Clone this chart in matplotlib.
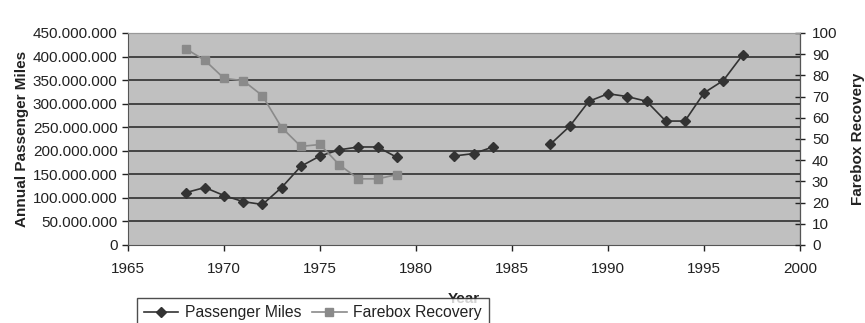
import numpy as np
import matplotlib.pyplot as plt

plt.rcParams['font.family'] = ['Liberation Sans', 'DejaVu Sans']

years = [1968, 1969, 1970, 1971, 1972, 1973, 1974, 1975, 1976, 1977, 1978, 1979,
         1980, 1981, 1982, 1983, 1984, 1985, 1986, 1987, 1988, 1989, 1990, 1991,
         1992, 1993, 1994, 1995, 1996, 1997]

# annual passenger miles (gaps where no data)
passenger_miles = [111e6, 122e6, 105e6, 92e6, 86e6, 122e6, 167e6, 189e6, 202e6, 208e6, 208e6, 186e6,
                   np.nan, np.nan, 189e6, 194e6, 208e6, np.nan, np.nan, 214e6, 252e6, 305e6, 321e6, 315e6,
                   305e6, 263e6, 263e6, 323e6, 349e6, 403e6]

fare_years = [1968, 1969, 1970, 1971, 1972, 1973, 1974, 1975, 1976, 1977, 1978, 1979]
farebox = [92.6, 87.1, 78.6, 77.5, 70.4, 55.4, 46.5, 47.4, 37.8, 31.2, 31.2, 33.2]

left_ticks = np.arange(0, 450e6 + 1, 50e6)
left_labels = ['0', '50.000.000', '100.000.000', '150.000.000', '200.000.000',
               '250.000.000', '300.000.000', '350.000.000', '400.000.000', '450.000.000']

txt = '#222222'

fig = plt.figure(figsize=(8.65, 3.23), dpi=100)
ax = fig.add_axes([0.148, 0.2415, 0.777, 0.6565])
ax.set_facecolor('#c0c0c0')

for v in left_ticks[1:-1]:
    ax.axhline(v, color='#3a3a3a', lw=1.3, zorder=1)

l1, = ax.plot(years, passenger_miles, color='#333333', lw=1.2, marker='D', ms=5,
              mfc='#333333', mec='#333333', zorder=3, label='Passenger Miles')
ax.set_xlim(1965, 2000)
ax.set_ylim(0, 450e6)
ax.set_yticks(left_ticks)
ax.set_yticklabels(left_labels)
ax.set_xticks(range(1965, 2001, 5))
ax.tick_params(axis='both', labelsize=11, colors=txt, length=4, width=1, direction='out')
ax.tick_params(axis='x', pad=8)
ax.set_ylabel('Annual Passenger Miles', fontsize=11, fontweight='bold', color=txt, labelpad=3)
ax.set_xlabel('Year', fontsize=11, fontweight='bold', color=txt, labelpad=12)
for s in ['left', 'bottom']:
    ax.spines[s].set_color('#555555')
ax.spines['top'].set_color('#999999')

ax2 = ax.twinx()
l2, = ax2.plot(fare_years, farebox, color='#8a8a8a', lw=1.2, marker='s', ms=5.5,
               mfc='#8a8a8a', mec='#8a8a8a', zorder=3, label='Farebox Recovery')
ax2.set_ylim(0, 100)
ax2.set_yticks(range(0, 101, 10))
ax2.tick_params(axis='y', labelsize=11, colors=txt, length=7, width=1, direction='inout', pad=5)
ax2.set_ylabel('Farebox Recovery', fontsize=11, fontweight='bold', color=txt, labelpad=10)
ax2.spines['right'].set_color('#555555')
ax2.spines['top'].set_color('#999999')
ax2.spines['left'].set_visible(False)
ax2.spines['bottom'].set_visible(False)

leg = fig.legend([l1, l2], ['Passenger Miles', 'Farebox Recovery'], loc='upper left',
                 bbox_to_anchor=(0.158, 0.077), bbox_transform=fig.transFigure, ncol=2,
                 fontsize=11.3, frameon=True, fancybox=False, edgecolor='#222222',
                 handlelength=2.2, handletextpad=0.4, columnspacing=0.7, borderpad=0.45,
                 borderaxespad=0)
leg.get_frame().set_linewidth(1.0)
leg.set_zorder(10)
for t in leg.get_texts():
    t.set_color(txt)

fig.savefig('out.png', dpi=100)
